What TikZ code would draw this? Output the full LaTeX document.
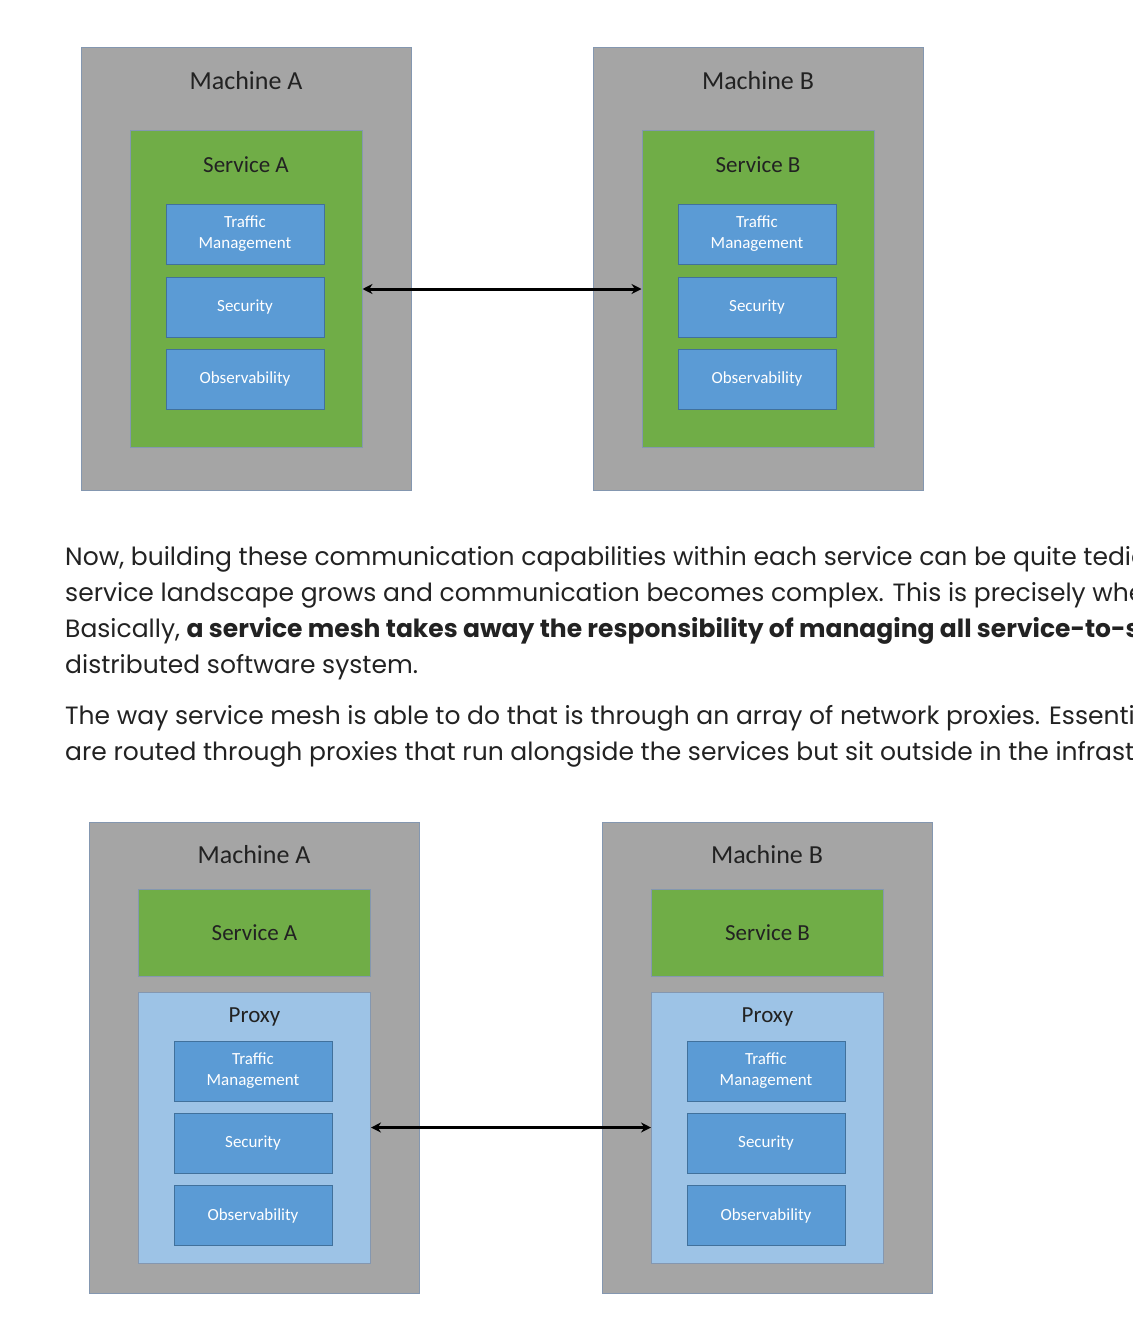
\documentclass[tikz,border=0pt]{standalone}
\usepackage{fontspec}
\setmainfont{Carlito}
\newfontfamily\bodyfont{Poppins}
\usetikzlibrary{arrows.meta}
\definecolor{machgray}{HTML}{A5A5A5}
\definecolor{framegray}{HTML}{8497B0}
\definecolor{svcgreen}{HTML}{70AD47}
\definecolor{capblue}{HTML}{5B9BD5}
\definecolor{capedge}{HTML}{41719C}
\definecolor{proxyblue}{HTML}{9DC3E6}
\definecolor{inktext}{HTML}{222222}

\begin{document}
\begin{tikzpicture}[x=1pt,y=-1pt,
  machine/.style={draw=framegray,fill=machgray,line width=1pt,inner sep=0,minimum width=330,minimum height=#1},
  service/.style={draw=framegray,fill=svcgreen,line width=1pt,inner sep=0,minimum width=232,minimum height=#1},
  proxy/.style={draw=framegray,fill=proxyblue,line width=1pt,inner sep=0,minimum width=232,minimum height=271},
  capbox/.style={draw=capedge,fill=capblue,line width=1pt,inner sep=0,minimum width=158,minimum height=60,
    text=white,align=center,font=\fontsize{17}{21}\selectfont},
  boxtitle/.style={text=inktext,font=\fontsize{26}{30}\selectfont},
  boxsub/.style={text=inktext,font=\fontsize{23}{26}\selectfont},
  body/.style={anchor=base west,inner sep=0,text=inktext,font=\bodyfont\fontsize{25}{28}\selectfont},
  link/.style={line width=3pt,{Stealth[length=10pt,width=10pt]}-{Stealth[length=10pt,width=10pt]}}]
  \useasboundingbox (0,0) rectangle (1132,1327);

  % first picture: capabilities inside each service
  \node[machine=442] (mA) at (246,269) {};
  \node[boxtitle] (mAt) at (246,81) {Machine A};
  \node[service=316] (sA) at (246,289) {};
  \node[boxsub] (sAt) at (246,165) {Service A};
  \node[capbox] (tmA) at (245,234) {Traffic\\Management};
  \node[capbox] (secA) at (245,307) {Security};
  \node[capbox] (obsA) at (245,379) {Observability};

  \node[machine=442] (mB) at (758,269) {};
  \node[boxtitle] (mBt) at (758,81) {Machine B};
  \node[service=316] (sB) at (758,289) {};
  \node[boxsub] (sBt) at (758,165) {Service B};
  \node[capbox] (tmB) at (757,234) {Traffic\\Management};
  \node[capbox] (secB) at (757,307) {Security};
  \node[capbox] (obsB) at (757,379) {Observability};

  \draw[link] (sA.east) -- (sB.west);

  % text
  \node[body] (par1) at (65,565) {Now, building these communication capabilities within each service can be quite tedious};
  \node[body] (par2) at (65,601) {service landscape grows and communication becomes complex. This is precisely where};
  \node[body] (par3) at (65,637) {Basically, {\bfseries a service mesh takes away the responsibility of managing all service-to-service}};
  \node[body] (par4) at (65,673) {distributed software system.};
  \node[body] (par5) at (65,724) {The way service mesh is able to do that is through an array of network proxies. Essentially};
  \node[body] (par6) at (65,760) {are routed through proxies that run alongside the services but sit outside in the infrastructure};

  % second picture: capabilities moved to a proxy
  \node[machine=471] (mA2) at (254,1057.5) {};
  \node[boxtitle] (mA2t) at (254,855) {Machine A};
  \node[service=87] (sA2) at (254.5,932.5) {};
  \node[boxsub] (sA2t) at (254.5,933) {Service A};
  \node[proxy] (pA) at (254.5,1127.5) {};
  \node[boxsub] (pAt) at (254.5,1017) {Proxy};
  \node[capbox] (tmA2) at (253,1071) {Traffic\\Management};
  \node[capbox] (secA2) at (253,1143.5) {Security};
  \node[capbox] (obsA2) at (253,1215.5) {Observability};

  \node[machine=471] (mB2) at (767,1057.5) {};
  \node[boxtitle] (mB2t) at (767,855) {Machine B};
  \node[service=87] (sB2) at (767.5,932.5) {};
  \node[boxsub] (sB2t) at (767.5,933) {Service B};
  \node[proxy] (pB) at (767.5,1127.5) {};
  \node[boxsub] (pBt) at (767.5,1017) {Proxy};
  \node[capbox] (tmB2) at (766,1071) {Traffic\\Management};
  \node[capbox] (secB2) at (766,1143.5) {Security};
  \node[capbox] (obsB2) at (766,1215.5) {Observability};

  \draw[link] (pA.east) -- (pB.west);
\end{tikzpicture}
\end{document}
